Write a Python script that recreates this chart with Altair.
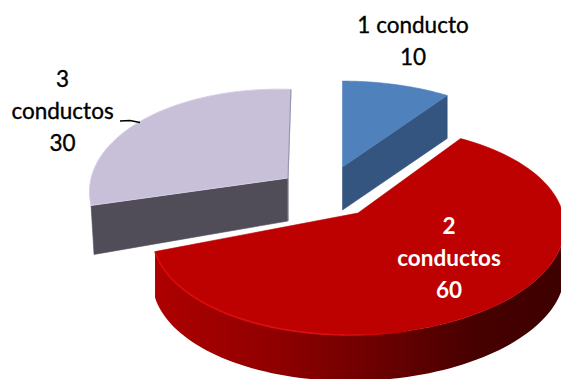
import math
import altair as alt
import pandas as pd

# Chart values
categories = ["1 conducto", "2 conductos", "3 conductos"]
values = [10, 60, 30]

# Drawing geometry of the tilted, exploded pie (pixel space)
W, H = 561, 379
PERSPECTIVE = 0.173
slice_geometry = {
    "1 conducto": dict(cx=342.5, cy=167, a=203, b=100.8, rot=0, depth=43),
    "2 conductos": dict(cx=358, cy=213, a=203, b=100.8, rot=-1.6, depth=46),
    "3 conductos": dict(cx=288, cy=178, a=195, b=104, rot=1.9, depth=43),
}
top_fill = {"1 conducto": "#4F81BD", "2 conductos": "#BD0000", "3 conductos": "#C8BFD9"}
side_fill = {
    "1 conducto": "#34557F",
    "2 conductos": alt.Gradient(
        gradient="linear", x1=0, y1=0, x2=1, y2=0,
        stops=[
            alt.GradientStop(offset=0, color="#AE0000"),
            alt.GradientStop(offset=0.3, color="#8F0000"),
            alt.GradientStop(offset=0.6, color="#640000"),
            alt.GradientStop(offset=0.78, color="#470000"),
            alt.GradientStop(offset=1, color="#3E0000"),
        ],
    ),
    "3 conductos": "#504D58",
}

# Slice angles, clockwise from the top, come from the values
total = sum(values)
angles = {}
running = 0
for name, value in zip(categories, values):
    angles[name] = (running * 360 / total, (running + value) * 360 / total)
    running += value


def rim(name, deg):
    g = slice_geometry[name]
    t = math.radians(deg)
    s = 1 / (1 + PERSPECTIVE * math.cos(t))
    x = g["a"] * math.sin(t) * s
    y = -g["b"] * math.cos(t) * s
    r = math.radians(g["rot"])
    return (
        g["cx"] + x * math.cos(r) - y * math.sin(r),
        g["cy"] + x * math.sin(r) + y * math.cos(r),
    )


def arc_points(name, start, end, n=90):
    return [rim(name, start + (end - start) * i / n) for i in range(n + 1)]


def frame(points):
    return pd.DataFrame(
        {"px": [p[0] for p in points], "py": [p[1] for p in points], "i": range(len(points))}
    )


x_enc = alt.X("px:Q", scale=alt.Scale(domain=[0, W], nice=False, zero=False), axis=None)
y_enc = alt.Y("py:Q", scale=alt.Scale(domain=[H, 0], nice=False, zero=False), axis=None)


def shape(points, fill, stroke=None, width=0.6):
    return (
        alt.Chart(frame(points))
        .mark_line(fill=fill, stroke=stroke or "transparent", strokeWidth=width, clip=True)
        .encode(x=x_enc, y=y_enc, order="i:Q")
    )


def stroke_line(points, stroke, width):
    return (
        alt.Chart(frame(points))
        .mark_line(stroke=stroke, strokeWidth=width, clip=True)
        .encode(x=x_enc, y=y_enc, order="i:Q")
    )


def apex(name):
    g = slice_geometry[name]
    return (g["cx"], g["cy"])


def drop(points, depth):
    return [(x, y + depth) for x, y in points]


def closed(points):
    return points + [points[0]]


layers = []

# Lavender slice: radial wall facing the viewer, then the top face.
# The wall's far end sits lower and further in because of the perspective.
n3 = "3 conductos"
s3, e3 = angles[n3]
depth3 = slice_geometry[n3]["depth"]
near3, far3 = apex(n3), rim(n3, s3)
wall3 = [near3, far3, (far3[0] + 3, far3[1] + depth3 + 6), (near3[0], near3[1] + depth3)]
layers.append(shape(closed(wall3), side_fill[n3], side_fill[n3]))
top3 = [apex(n3)] + arc_points(n3, s3, e3)
layers.append(shape(closed(top3), top_fill[n3], "#D6CFE4", 1))
layers.append(stroke_line([rim(n3, e3), apex(n3)], "#9C97AC", 1.2))
layers.append(stroke_line([near3, (near3[0], near3[1] + depth3)], "#8B8796", 1))

# Blue slice
n1 = "1 conducto"
s1, e1 = angles[n1]
wall1 = [apex(n1), rim(n1, e1)]
layers.append(shape(closed(wall1 + drop(wall1, slice_geometry[n1]["depth"])[::-1]), side_fill[n1], side_fill[n1]))
top1 = [apex(n1)] + arc_points(n1, s1, e1)
layers.append(shape(closed(top1), top_fill[n1], top_fill[n1]))

# Red slice: outer wall, top face and the lit rim along the front edge
n2 = "2 conductos"
s2, e2 = angles[n2]
outer = arc_points(n2, 90, e2)
depth2 = slice_geometry[n2]["depth"]
outer_left_to_right = outer[::-1]
layers.append(shape(closed(outer_left_to_right + drop(outer_left_to_right, depth2)[::-1]), side_fill[n2]))
top2 = [apex(n2)] + arc_points(n2, s2, e2)
layers.append(shape(closed(top2), top_fill[n2], top_fill[n2]))
glow = alt.Gradient(
    gradient="linear", x1=0, y1=0, x2=1, y2=0,
    stops=[
        alt.GradientStop(offset=0, color="#E00808"),
        alt.GradientStop(offset=0.7, color="#DC1212"),
        alt.GradientStop(offset=1, color="#BD0000"),
    ],
)
layers.append(stroke_line(arc_points(n2, e2, 170), glow, 1.6))

# Leader line of the lavender slice
layers.append(stroke_line([(120, 121), (130, 120.5), (140, 122.5)], "#000000", 1.3))

# Category and value labels
label_rows = []
label_spots = {
    "1 conducto": (413, 26, ["1 conducto"], "#000000"),
    "2 conductos": (449, 227, ["2", "conductos"], "#FFFFFF"),
    "3 conductos": (62.5, 80, ["3", "conductos"], "#000000"),
}
for name, value in zip(categories, values):
    lx, ly, words, colour = label_spots[name]
    for k, word in enumerate(words + [str(value)]):
        label_rows.append({"px": lx, "py": ly + 32 * k, "txt": word, "colour": colour})
labels = pd.DataFrame(label_rows)
dark_labels = labels[labels["colour"] == "#000000"]
light_labels = labels[labels["colour"] == "#FFFFFF"]
layers.append(
    alt.Chart(dark_labels)
    .mark_text(font="Lato", fontSize=22.5, align="center", baseline="middle", color="#000000", stroke="#000000", strokeWidth=0.35)
    .encode(x=x_enc, y=y_enc, text="txt:N")
)
layers.append(
    alt.Chart(light_labels)
    .mark_text(font="Lato", fontSize=22.5, fontWeight="bold", align="center", baseline="middle", color="#FFFFFF")
    .encode(x=x_enc, y=y_enc, text="txt:N")
)

chart = (
    alt.layer(*layers)
    .properties(
        width=W,
        height=H,
        padding=0,
        autosize=alt.AutoSizeParams(type="none", contains="padding"),
        background="#FFFFFF",
    )
    .configure_view(stroke=None)
)

chart.save("out.html", embed_options={"renderer": "svg", "actions": False})
